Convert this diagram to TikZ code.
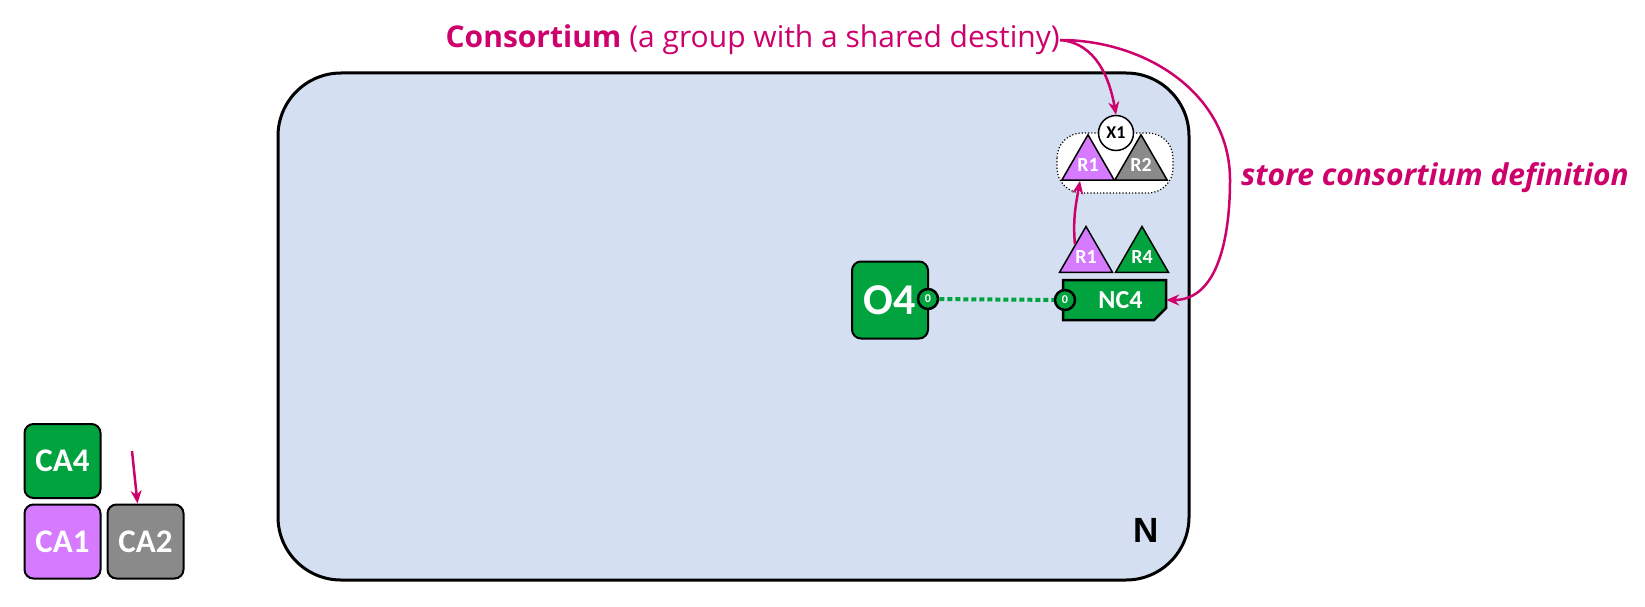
\documentclass[tikz,border=0pt]{standalone}
\usepackage{fontspec}
\setmainfont{Open Sans}
\newfontfamily\calfont{Carlito}
\newfontfamily\arialfont{Liberation Sans}
\usetikzlibrary{shapes.geometric,arrows.meta,calc}
\definecolor{netblue}{RGB}{212,224,241}
\definecolor{ngreen}{RGB}{0,163,62}
\definecolor{npurple}{RGB}{214,122,255}
\definecolor{ngray}{RGB}{138,138,138}
\definecolor{nmagenta}{RGB}{206,0,108}

\begin{document}
\begin{tikzpicture}
[x=1pt,y=-1pt,%
  box/.style={draw,line width=2pt,rounded corners=9pt,minimum width=76pt,minimum height=74pt,inner sep=0pt,text=white,font=\calfont\bfseries\fontsize{33}{33}\selectfont},%
  port/.style={circle,draw,line width=2.5pt,fill=ngreen,inner sep=0pt,minimum size=20pt,text=white,font=\calfont\bfseries\fontsize{12}{12}\selectfont},%
  role/.style={regular polygon,regular polygon sides=3,draw,line width=1.5pt,inner sep=0pt,minimum size=61pt,text=white,font=\calfont\bfseries\fontsize{20}{20}\selectfont},%
  note/.style={line width=2.5pt,nmagenta,-{Stealth[length=13pt,width=11pt]}}]
\useasboundingbox (0,0) rectangle (1645,607);

% network
\draw[line width=3pt,fill=netblue,rounded corners=63pt] (278,73) rectangle (1189,580);
\node[font=\arialfont\bfseries\fontsize{35}{35}\selectfont] (n) at (1146,530) {N};

% consortium
\draw[dotted,line width=1.2pt,fill=white,rounded corners=25pt] (1057,133) rectangle (1173,193);
\node[circle,draw,line width=1.5pt,fill=white,inner sep=0pt,minimum size=35pt,font=\calfont\bfseries\fontsize{18}{18}\selectfont] (x1) at (1116,133) {X1};
\node[role,fill=npurple,minimum size=54pt] (r1a) at (1088,165) {R1};
\node[role,fill=ngray,minimum size=54pt] (r2a) at (1141,165) {R2};

% node and orderer
\node[box,fill=ngreen,minimum width=76pt,minimum height=77pt,font=\calfont\bfseries\fontsize{44}{44}\selectfont] (o4) at (890,300) {O4\hspace{6pt}};
\node[port] (p1) at (928,299) {0};
\draw[line width=2.5pt,fill=ngreen] (1063,280) -- (1166,280) -- (1166,308) -- (1154,320) -- (1063,320) -- cycle;
\node[text=white,font=\calfont\bfseries\fontsize{26}{26}\selectfont,minimum width=103pt,minimum height=40pt,inner sep=0pt] (nc4) at (1114.5,300) {\hspace{12pt}NC4};
\node[port] (p2) at (1065,300) {0};
\draw[ngreen,line width=4pt,dash pattern=on 5pt off 3pt] (p1) -- (p2);
\node[role,fill=npurple] (r1b) at (1086,257) {R1};
\node[role,fill=ngreen] (r4b) at (1142,257) {R4};

% certificate authorities
\node[box,fill=ngreen] (ca4) at (62.5,461) {CA4};
\node[box,fill=npurple] (ca1) at (62.5,541.5) {CA1};
\node[box,fill=ngray] (ca2) at (145.5,541.5) {CA2};
\coordinate (cain) at (132,451);
\draw[note] (cain) -- ($(ca2.north)+(-8,0)$);

% annotations
\node[anchor=east,inner sep=0pt,text=nmagenta,font=\fontsize{30}{30}\selectfont] (cons) at (1060,40) {\textbf{Consortium} (a group with a shared destiny)};
\node[anchor=west,inner sep=0pt,text=nmagenta,font=\bfseries\itshape\fontsize{30}{30}\selectfont] (store) at (1241,178) {store consortium definition};
\coordinate (turn) at (1230,180);
\draw[note] (cons.east) to[out=-5,in=100] (x1.north);
\draw[note,-] (cons.east) to[out=0,in=90] (turn);
\draw[note] (turn) to[out=-90,in=0] (nc4.east);
\draw[note] ($(r1b.corner 1)!0.4!(r1b.corner 2)$) to[out=95,in=-100] ($(r1a.side 2)+(-8,0)$);
\end{tikzpicture}
\end{document}
